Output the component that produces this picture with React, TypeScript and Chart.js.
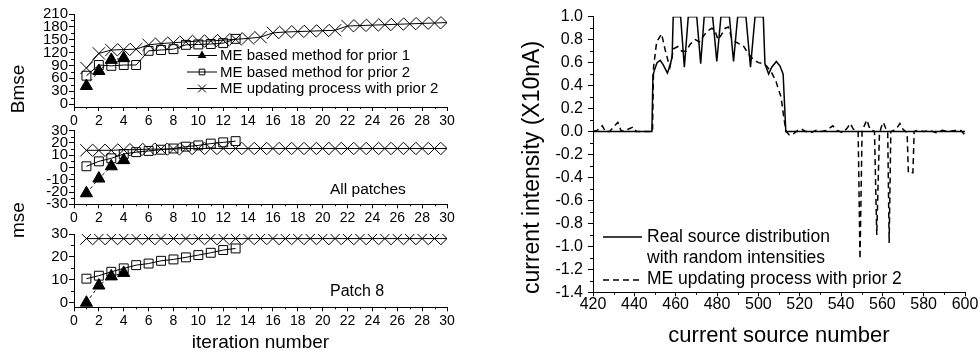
import React, { useEffect, useRef } from 'react';
import { Chart, registerables } from 'chart.js';

Chart.register(...registerables);

const FONT = "'Liberation Sans', Arial, Helvetica, sans-serif";

// ---------------- Left panels data ----------------
const iterPrior1 = [1, 2, 3, 4];
const iterPrior2 = [1, 2, 3, 4, 5, 6, 7, 8, 9, 10, 11, 12, 13];
const iterUpdate = [1, 2, 3, 4, 5, 6, 7, 8, 9, 10, 11, 12, 13, 14, 15, 16, 17, 18, 19, 20, 21, 22, 23, 24, 25, 26, 27, 28, 29, 30];

const bmsePrior1 = [42, 77, 103, 107];
const bmsePrior2 = [66, 91, 89, 91, 91, 124, 126, 128, 138, 139, 140, 142, 152];
const bmseUpdate = [84, 118, 126, 127, 128, 138, 141, 143, 145, 147, 147, 149, 151, 153, 156, 166, 168, 169, 170, 171, 172, 182, 183, 184, 185, 186, 187, 188, 189, 190];

const allPrior1 = [-21, -9, 1, 6];
const allPrior2 = [1, 5, 7.5, 11, 12.5, 13.5, 14.5, 15.5, 17, 18, 19.5, 20.5, 21.5];
const allUpdate = [14, 14, 14, 14.5, 14.5, 15, 15, 15, 15.5, 15.5, 15.5, 15.5, 15.5, 15.5, 15.5, 15.5, 15.5, 15.5, 15.5, 15.5, 15.5, 15.5, 15.5, 15.5, 15.5, 15.5, 15.5, 15.5, 15.5, 15.5];

const p8Prior1 = [0, 7.5, 11.5, 13];
const p8Prior2 = [10.5, 11.8, 13.5, 15, 16.4, 17.1, 18.3, 18.9, 19.8, 20.8, 21.8, 23, 23.7];
const p8Update = [28, 28, 28, 28, 28, 28, 28, 28, 28, 28, 28, 28, 28, 28, 28, 28, 28, 28, 28, 28, 28, 28, 28, 28, 28, 28, 28, 28, 28, 28];

const iterTicks = [0, 2, 4, 6, 8, 10, 12, 14, 16, 18, 20, 22, 24, 26, 28, 30];
const bmseTicks = [0, 30, 60, 90, 120, 150, 180, 210];
const allTicks = [-30, -20, -10, 0, 10, 20, 30];
const p8Ticks = [0, 10, 20, 30];

const seriesLabels = ['ME based method for prior 1', 'ME based method for prior 2', 'ME updating process with prior 2'];

// ---------------- Right panel data ----------------
const solidX = [420, 448.5, 449, 450, 451, 452.5, 454, 456, 457.3, 458.3, 458.8, 462.4, 464.2, 466.1, 470.2, 472.1, 473.8, 477.9, 479.9, 481.9, 486.0, 488.0, 490.0, 494.0, 496.2, 498.4, 502.4, 503.2, 505, 506.5, 508.7, 510.5, 512, 513.3, 600];
const solidY = [0, 0, 0.49, 0.55, 0.6, 0.62, 0.58, 0.51, 0.58, 0.65, 1.0, 1.0, 0.56, 1.0, 1.0, 0.59, 1.0, 1.0, 0.61, 1.0, 1.0, 0.61, 1.0, 1.0, 0.56, 1.0, 1.0, 0.59, 0.5, 0.56, 0.61, 0.57, 0.5, 0, 0];

const dashX = [420, 422, 424.5, 426, 428, 430, 432, 433.5, 435, 437, 439.5, 441, 445, 448.8, 449.3, 450.8, 453.2, 454.8, 456.4, 457.2, 459, 461, 463, 465, 467, 469.5, 471.5, 473, 475, 477.5, 479, 480.5, 482, 484, 485.5, 487, 489, 491, 493, 495, 497.5, 500, 502.4, 504, 506.5, 508.5, 509.5, 511, 512.5, 513.5, 515, 517, 519, 521, 523, 525.5, 528, 530.5, 533, 536, 538, 541, 543, 544.5, 546, 548.3, 549.2, 550.2, 551.5, 552.5, 554, 556.2, 557.3, 558.6, 559.5, 560.5, 561.8, 562.6, 563.3, 564.1, 565.5, 567, 568.5, 570, 572, 572.6, 574.8, 575.4, 577, 580, 583, 586, 589, 592, 595, 598, 600];
const dashY = [0, 0.01, 0.05, 0, 0, 0.04, 0.08, 0.01, 0, 0.02, 0.04, 0, 0, 0, 0.56, 0.78, 0.85, 0.72, 0.61, 0.56, 0.72, 0.74, 0.7, 0.7, 0.76, 0.8, 0.78, 0.82, 0.87, 0.9, 0.88, 0.8, 0.84, 0.9, 0.91, 0.82, 0.78, 0.76, 0.74, 0.68, 0.63, 0.6, 0.59, 0.57, 0.51, 0.44, 0.38, 0.3, 0.1, 0, -0.03, -0.02, 0.01, 0.02, 0, -0.01, 0.01, 0, 0.01, 0.05, 0.01, -0.01, 0.03, 0.07, 0.02, 0, -1.11, 0, 0.06, 0.1, 0.02, 0, -0.9, -0.02, 0.04, 0.08, 0.02, 0, -0.97, 0, 0.01, 0.03, 0.07, 0.02, -0.01, -0.36, -0.36, 0, 0.01, 0, 0.01, -0.01, 0.01, 0, 0.01, 0.01, -0.03];

const sourceTicks = [420, 440, 460, 480, 500, 520, 540, 560, 580, 600];
const intensityTicks = [1.0, 0.8, 0.6, 0.4, 0.2, 0.0, -0.2, -0.4, -0.6, -0.8, -1.0, -1.2, -1.4];

const rightLegend = ['Real source distribution', 'with random intensities', 'ME updating process with prior 2'];
const rightYTitle = 'current intensity (X10nA)';

// ---------------- helpers ----------------
type Pt = { x: number; y: number };
const zip = (xs: number[], ys: number[]): Pt[] => ys.map((y, i) => ({ x: xs[i], y }));
const midpoints = (t: number[]) => t.slice(1).map((v, i) => (v + t[i]) / 2);

function drawMarker(ctx: CanvasRenderingContext2D, style: string, x: number, y: number, r: number) {
  ctx.beginPath();
  if (style === 'triangle') {
    ctx.moveTo(x, y - r);
    ctx.lineTo(x + r * 0.866, y + r * 0.5);
    ctx.lineTo(x - r * 0.866, y + r * 0.5);
    ctx.closePath();
    ctx.fillStyle = '#000';
    ctx.fill();
  } else if (style === 'rect') {
    const s = r * Math.SQRT1_2;
    ctx.rect(x - s, y - s, 2 * s, 2 * s);
    ctx.stroke();
  } else {
    const s = r * Math.SQRT1_2;
    ctx.moveTo(x - s, y - s);
    ctx.lineTo(x + s, y + s);
    ctx.moveTo(x - s, y + s);
    ctx.lineTo(x + s, y - s);
    ctx.stroke();
  }
}

function minorTickPlugin(specs: { axis: string; values: number[]; len: number }[]) {
  return {
    id: 'minorTicks',
    afterDraw(chart: any) {
      const ctx = chart.ctx as CanvasRenderingContext2D;
      ctx.save();
      ctx.strokeStyle = '#000';
      ctx.lineWidth = 1;
      ctx.setLineDash([]);
      for (const s of specs) {
        const sc = chart.scales[s.axis];
        for (const v of s.values) {
          const p = Math.round(sc.getPixelForValue(v)) + 0.5;
          ctx.beginPath();
          if (sc.isHorizontal()) {
            ctx.moveTo(p, sc.top);
            ctx.lineTo(p, sc.top + s.len);
          } else {
            ctx.moveTo(sc.right, p);
            ctx.lineTo(sc.right - s.len, p);
          }
          ctx.stroke();
        }
      }
      ctx.restore();
    },
  };
}

type TextItem = { text: string; x: number; y: number; size: number };
function textPlugin(items: TextItem[]) {
  return {
    id: 'freeText',
    afterDraw(chart: any) {
      const ctx = chart.ctx as CanvasRenderingContext2D;
      ctx.save();
      ctx.fillStyle = '#000';
      ctx.textAlign = 'left';
      ctx.textBaseline = 'middle';
      for (const t of items) {
        ctx.font = `${t.size}px ${FONT}`;
        ctx.fillText(t.text, t.x, t.y);
      }
      ctx.restore();
    },
  };
}

function leftLegendPlugin() {
  return {
    id: 'leftLegend',
    afterDraw(chart: any) {
      const ctx = chart.ctx as CanvasRenderingContext2D;
      const entries = [
        { style: 'triangle', r: 5, y: 55 },
        { style: 'rect', r: 4, y: 71.5 },
        { style: 'crossRot', r: 5.5, y: 88 },
      ];
      ctx.save();
      ctx.strokeStyle = '#000';
      ctx.lineWidth = 1;
      entries.forEach((e, i) => {
        ctx.beginPath();
        ctx.moveTo(187, e.y + 0.5);
        ctx.lineTo(217, e.y + 0.5);
        ctx.stroke();
        drawMarker(ctx, e.style, 202, e.y + 0.5, e.r);
        ctx.fillStyle = '#000';
        ctx.font = `15px ${FONT}`;
        ctx.textBaseline = 'middle';
        ctx.textAlign = 'left';
        ctx.fillText(seriesLabels[i], 220, e.y + 1);
      });
      ctx.restore();
    },
  };
}

function rightLegendPlugin() {
  return {
    id: 'rightLegend',
    afterDraw(chart: any) {
      const ctx = chart.ctx as CanvasRenderingContext2D;
      ctx.save();
      ctx.strokeStyle = '#000';
      ctx.lineWidth = 1.5;
      ctx.beginPath();
      ctx.moveTo(103, 237);
      ctx.lineTo(142, 237);
      ctx.stroke();
      ctx.setLineDash([6, 4]);
      ctx.beginPath();
      ctx.moveTo(103, 280);
      ctx.lineTo(142, 280);
      ctx.stroke();
      ctx.setLineDash([]);
      ctx.fillStyle = '#000';
      ctx.font = `17.5px ${FONT}`;
      ctx.textBaseline = 'middle';
      ctx.textAlign = 'left';
      ctx.fillText(rightLegend[0], 147, 237);
      ctx.fillText(rightLegend[1], 147, 258);
      ctx.fillText(rightLegend[2], 147, 279);
      // rotated y-axis title
      ctx.translate(33, 167.5);
      ctx.rotate(-Math.PI / 2);
      ctx.textAlign = 'center';
      ctx.font = `23px ${FONT}`;
      ctx.fillText(rightYTitle, 0, 0);
      ctx.restore();
    },
  };
}

const fixedTicks = (vals: number[]) => (scale: any) => {
  scale.ticks = vals.map((v) => ({ value: v }));
};

function seriesDatasets(p1: number[], p2: number[], up: number[]) {
  return [
    {
      label: seriesLabels[0],
      data: zip(iterPrior1, p1),
      showLine: true,
      borderColor: '#000',
      borderWidth: 1,
      borderDash: [3, 3],
      pointStyle: 'triangle',
      pointRadius: 7,
      pointBorderWidth: 1,
      pointBackgroundColor: '#000',
      pointBorderColor: '#000',
    },
    {
      label: seriesLabels[1],
      data: zip(iterPrior2, p2),
      showLine: true,
      borderColor: '#000',
      borderWidth: 1,
      pointStyle: 'rect',
      pointRadius: 6.3,
      pointBorderWidth: 1,
      pointBackgroundColor: 'rgba(0,0,0,0)',
      pointBorderColor: '#000',
    },
    {
      label: seriesLabels[2],
      data: zip(iterUpdate, up),
      showLine: true,
      borderColor: '#000',
      borderWidth: 1,
      pointStyle: 'crossRot',
      pointRadius: 8.7,
      pointBorderWidth: 1,
      pointBackgroundColor: '#000',
      pointBorderColor: '#000',
    },
  ];
}

function leftConfig(opts: {
  p1: number[]; p2: number[]; up: number[];
  yMin: number; yMax: number; yTicks: number[];
  padTop: number; xHeight: number; title?: string; plugins: any[];
}) {
  const yMinor = midpoints(opts.yTicks);
  const xMinor = midpoints(iterTicks);
  return {
    type: 'scatter',
    data: { datasets: seriesDatasets(opts.p1, opts.p2, opts.up) },
    options: {
      animation: false,
      responsive: false,
      maintainAspectRatio: false,
      events: [],
      layout: { padding: { top: opts.padTop, right: 13, left: 0, bottom: 0 } },
      plugins: { legend: { display: false }, tooltip: { enabled: false } },
      scales: {
        x: {
          type: 'linear',
          min: 0,
          max: 30,
          afterBuildTicks: fixedTicks(iterTicks),
          afterFit: (s: any) => { s.height = opts.xHeight; },
          grid: { drawOnChartArea: false, tickLength: 4, tickColor: '#000', tickWidth: 1 },
          border: { color: '#000', width: 1 },
          ticks: { color: '#000', padding: 3, maxRotation: 0, autoSkip: false, font: { family: FONT, size: 14, lineHeight: 1 } },
          title: opts.title
            ? { display: true, text: opts.title, color: '#000', font: { family: FONT, size: 19, lineHeight: 1 }, padding: { top: 0, bottom: 2 } }
            : { display: false },
        },
        y: {
          type: 'linear',
          min: opts.yMin,
          max: opts.yMax,
          afterBuildTicks: fixedTicks(opts.yTicks),
          afterFit: (s: any) => { s.width = 74; },
          grid: { drawOnChartArea: false, tickLength: 5, tickColor: '#000', tickWidth: 1 },
          border: { color: '#000', width: 1 },
          ticks: { color: '#000', padding: 1, autoSkip: false, font: { family: FONT, size: 15, lineHeight: 1 } },
        },
      },
    },
    plugins: [minorTickPlugin([{ axis: 'x', values: xMinor, len: 2 }, { axis: 'y', values: yMinor, len: 3 }]), ...opts.plugins],
  };
}

function rightConfig() {
  return {
    type: 'scatter',
    data: {
      datasets: [
        {
          label: rightLegend[0] + ' ' + rightLegend[1],
          data: zip(solidX, solidY),
          showLine: true,
          borderColor: '#000',
          borderWidth: 1.5,
          pointRadius: 0,
        },
        {
          label: rightLegend[2],
          data: zip(dashX, dashY),
          showLine: true,
          borderColor: '#000',
          borderWidth: 1.5,
          borderDash: [6, 4],
          pointRadius: 0,
        },
      ],
    },
    options: {
      animation: false,
      responsive: false,
      maintainAspectRatio: false,
      events: [],
      layout: { padding: { top: 16.7, right: 15, left: 0, bottom: 0 } },
      plugins: { legend: { display: false }, tooltip: { enabled: false } },
      scales: {
        x: {
          type: 'linear',
          min: 420,
          max: 600,
          afterBuildTicks: fixedTicks(sourceTicks),
          afterFit: (s: any) => { s.height = 61.7; },
          grid: { drawOnChartArea: false, tickLength: 4, tickColor: '#000' },
          border: { color: '#000', width: 1 },
          ticks: { color: '#000', padding: 0, maxRotation: 0, autoSkip: false, font: { family: FONT, size: 16, lineHeight: 1 } },
          title: { display: true, text: 'current source number', color: '#000', font: { family: FONT, size: 22, lineHeight: 1 }, padding: { top: 0, bottom: 7 } },
        },
        y: {
          type: 'linear',
          min: -1.4,
          max: 1.0,
          afterBuildTicks: fixedTicks(intensityTicks),
          afterFit: (s: any) => { s.width = 93; },
          grid: { drawOnChartArea: false, tickLength: 5, tickColor: '#000' },
          border: { color: '#000', width: 1 },
          ticks: { color: '#000', padding: 5, autoSkip: false, font: { family: FONT, size: 16, lineHeight: 1 }, callback: (v: any) => Number(v).toFixed(1) },
          title: { display: false },
        },
      },
    },
    plugins: [
      minorTickPlugin([{ axis: 'x', values: midpoints(sourceTicks), len: 2.5 }, { axis: 'y', values: midpoints(intensityTicks), len: 3 }]),
      rightLegendPlugin(),
    ],
  };
}

function ChartBox({ left, top, width, height, make }: { left: number; top: number; width: number; height: number; make: () => any }) {
  const ref = useRef<HTMLCanvasElement>(null);
  useEffect(() => {
    const chart = new Chart(ref.current as HTMLCanvasElement, make());
    return () => chart.destroy();
  }, []);
  return (
    <canvas
      ref={ref}
      width={width}
      height={height}
      style={{ position: 'absolute', left, top, width, height }}
    />
  );
}

const rotLabel = (text: string, cx: number, cy: number, size: number) => (
  <div
    style={{
      position: 'absolute',
      left: cx,
      top: cy,
      transform: 'translate(-50%, -50%) rotate(-90deg)',
      fontFamily: FONT,
      fontSize: size,
      lineHeight: 1,
      whiteSpace: 'nowrap',
      color: '#000',
    }}
  >
    {text}
  </div>
);

export default function App() {
  return (
    <div style={{ position: 'absolute', left: 0, top: 0, width: 980, height: 354, background: '#fff', overflow: 'hidden' }}>
      <ChartBox
        left={0}
        top={0}
        width={460}
        height={130}
        make={() =>
          leftConfig({ p1: bmsePrior1, p2: bmsePrior2, up: bmseUpdate, yMin: -7, yMax: 210, yTicks: bmseTicks, padTop: 14, xHeight: 23, plugins: [leftLegendPlugin()] })
        }
      />
      <ChartBox
        left={0}
        top={112}
        width={460}
        height={118}
        make={() =>
          leftConfig({ p1: allPrior1, p2: allPrior2, up: allUpdate, yMin: -30, yMax: 30, yTicks: allTicks, padTop: 18.7, xHeight: 25.7, plugins: [textPlugin([{ text: 'All patches', x: 330, y: 78, size: 15.5 }])] })
        }
      />
      <ChartBox
        left={0}
        top={222}
        width={460}
        height={132}
        make={() =>
          leftConfig({ p1: p8Prior1, p2: p8Prior2, up: p8Update, yMin: -2, yMax: 30, yTicks: p8Ticks, padTop: 12, xHeight: 46.7, title: 'iteration number', plugins: [textPlugin([{ text: 'Patch 8', x: 330, y: 69.7, size: 16 }])] })
        }
      />
      {rotLabel('Bmse', 17, 89, 19)}
      {rotLabel('mse', 17, 220, 19)}
      <ChartBox left={500} top={0} width={480} height={354} make={rightConfig} />
    </div>
  );
}
